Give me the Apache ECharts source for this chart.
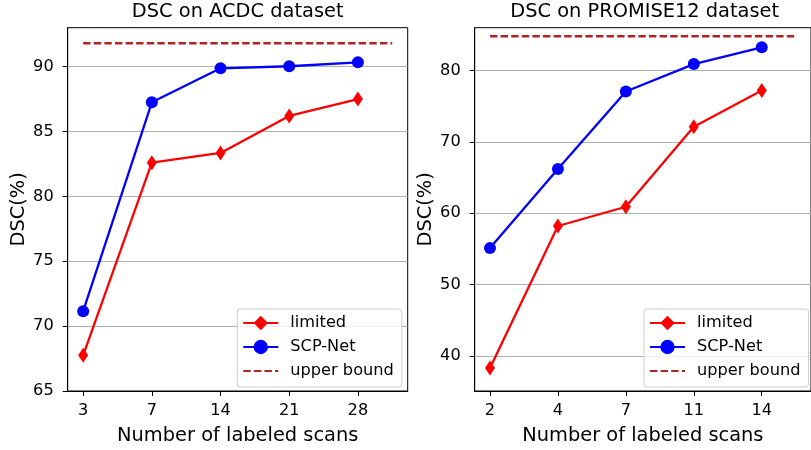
<!DOCTYPE html>
<html>
<head>
<meta charset="utf-8">
<script src="https://cdn.jsdelivr.net/npm/echarts@6/dist/echarts.min.js"></script>
<style>html,body{margin:0;padding:0;background:#fff}#c{width:811px;height:450px}</style>
</head>
<body>
<div id="c"></div>
<script>
// ACDC panel
const acdcScans = ['3', '7', '14', '21', '28'];
const acdcLimited = [67.75, 82.6, 83.35, 86.2, 87.5];
const acdcSCP = [71.15, 87.25, 89.87, 90.03, 90.33];
const acdcUpper = 91.8;
const acdcYTicks = [65, 70, 75, 80, 85, 90];
// PROMISE12 panel
const promScans = ['2', '4', '7', '11', '14'];
const promLimited = [38.3, 58.2, 60.9, 72.1, 77.2];
const promSCP = [55.1, 66.2, 77.05, 80.9, 83.25];
const promUpper = 84.8;
const promYTicks = [40, 50, 60, 70, 80];

const FONT = 'DejaVu Sans';
const idx = [0, 1, 2, 3, 4];
const TICKF = 16.2, LABF = 19.4;

function pts(vals) { return vals.map((v, i) => [i, v]); }

function xAxis(gi, cats) {
  return {
    type: 'value', gridIndex: gi, min: -0.225, max: 4.725,
    name: 'Number of labeled scans', nameLocation: 'middle', nameGap: 35,
    nameTextStyle: { fontFamily: FONT, fontSize: LABF, color: '#000' },
    axisLine: { show: true, onZero: false, lineStyle: { color: '#000', width: 1 } },
    axisTick: { show: true, inside: false, length: 5, customValues: idx, lineStyle: { color: '#000', width: 1 } },
    axisLabel: { customValues: idx, margin: 12, fontFamily: FONT, fontSize: TICKF, color: '#000',
      formatter: v => cats[Math.round(v)] },
    splitLine: { show: false }
  };
}
function yAxis(gi, min, max, interval, ticks) {
  return {
    type: 'value', gridIndex: gi, min: min, max: max, interval: interval,
    name: 'DSC(%)', nameLocation: 'middle', nameGap: 39,
    nameTextStyle: { fontFamily: FONT, fontSize: LABF, color: '#000' },
    axisLine: { show: true, onZero: false, lineStyle: { color: '#000', width: 1 } },
    axisTick: { show: true, inside: false, length: 5, customValues: ticks, lineStyle: { color: '#000', width: 1 } },
    axisLabel: { customValues: ticks, margin: 14, fontFamily: FONT, fontSize: TICKF, color: '#000' },
    splitLine: { show: true, lineStyle: { color: '#b0b0b0', width: 1.1 } }
  };
}
function series(gi, lim, scp, up) {
  return [
    { name: 'limited', type: 'line', xAxisIndex: gi, yAxisIndex: gi, data: pts(lim),
      symbol: 'diamond', symbolSize: [10, 15], color: '#ff0000',
      lineStyle: { color: '#ff0000', width: 2.3 }, itemStyle: { color: '#ff0000' }, z: 3 },
    { name: 'SCP-Net', type: 'line', xAxisIndex: gi, yAxisIndex: gi, data: pts(scp),
      symbol: 'circle', symbolSize: 12, color: '#0000ff',
      lineStyle: { color: '#0000ff', width: 2.3 }, itemStyle: { color: '#0000ff' }, z: 4 },
    { name: 'upper bound', type: 'line', xAxisIndex: gi, yAxisIndex: gi, data: [[0, up], [4.5, up]],
      symbol: 'none', showSymbol: false, color: '#b22222',
      lineStyle: { color: '#b22222', width: 2.3, type: [7.4, 3.2] }, z: 5 }
  ];
}
function legend(left) {
  return {
    orient: 'vertical', left: left, top: 309,
    data: ['limited', 'SCP-Net', { name: 'upper bound', itemStyle: { opacity: 0 } }],
    itemWidth: 35, itemHeight: 18, itemGap: 8,
    padding: [6, 8, 8, 5],
    backgroundColor: 'rgba(255,255,255,0.8)', borderColor: '#cccccc', borderWidth: 1, borderRadius: 3,
    textStyle: { fontFamily: FONT, fontSize: TICKF, color: '#000', padding: [0, 0, 0, 7] },
    selectedMode: false
  };
}

const chart = echarts.init(document.getElementById('c'), null, { renderer: 'canvas' });
chart.setOption({
  animation: false,
  backgroundColor: '#fff',
  title: [
    { text: 'DSC on ACDC dataset', left: 237.7, top: 2, textAlign: 'center', padding: 0,
      textStyle: { fontFamily: FONT, fontSize: LABF, fontWeight: 'normal', color: '#000' } },
    { text: 'DSC on PROMISE12 dataset', left: 644.7, top: 2, textAlign: 'center', padding: 0,
      textStyle: { fontFamily: FONT, fontSize: LABF, fontWeight: 'normal', color: '#000' } }
  ],
  grid: [
    { left: 67.7, top: 27.7, width: 340, height: 365, show: true, borderColor: '#000', borderWidth: 1, backgroundColor: 'transparent' },
    { left: 474.7, top: 27.7, width: 340, height: 365, show: true, borderColor: '#000', borderWidth: 1, backgroundColor: 'transparent' }
  ],
  xAxis: [xAxis(0, acdcScans), xAxis(1, promScans)],
  yAxis: [yAxis(0, 65, 93, 5, acdcYTicks), yAxis(1, 35.07, 86.0, 10, promYTicks)],
  legend: [legend(237.3), legend(644)],
  series: [].concat(series(0, acdcLimited, acdcSCP, acdcUpper), series(1, promLimited, promSCP, promUpper))
});
</script>
</body>
</html>
